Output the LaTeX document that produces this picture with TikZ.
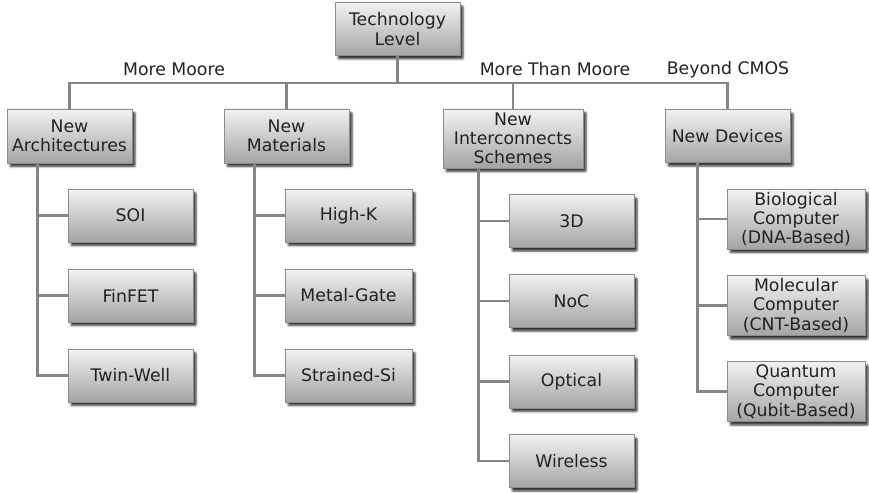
\documentclass[tikz,border=0pt]{standalone}
\usepackage{fontspec}
\setmainfont{DejaVu Sans}
\usetikzlibrary{shadows.blur}
\definecolor{conncol}{HTML}{858585}
\definecolor{boxborder}{HTML}{8C8C8C}
\definecolor{boxtop}{HTML}{F2F2F2}
\definecolor{boxbot}{HTML}{A4A4A4}
\definecolor{txt}{HTML}{222222}
\tikzset{
  box/.style={rectangle, draw=boxborder, line width=0.8pt,
    top color=boxtop, bottom color=boxbot,
    blur shadow={shadow xshift=3pt, shadow yshift=-3.5pt, shadow blur steps=5, shadow blur extra rounding=1pt, shadow opacity=80},
    minimum width=125pt, minimum height=53pt, align=center, inner sep=0pt,
    text=txt, font=\fontsize{17.3}{19.3}\selectfont},
  widebox/.style={box, minimum width=138pt, minimum height=60pt},
  conn/.style={draw=conncol, line width=2.8pt},
  lbl/.style={text=txt, font=\fontsize{17.3}{19.3}\selectfont, inner sep=0pt}
}
\begin{document}
\begin{tikzpicture}[x=1pt, y=-1pt]
\useasboundingbox (0,0) rectangle (869,492);
\coordinate (bus) at (399,83);
\node[box, font=\fontsize{17.3}{20.5}\selectfont] (tech) at (397.5,29) {Technology\\Level};
\node[box, minimum height=54pt] (arch) at (69.5,136) {New\\Architectures};
\node[box, minimum height=54pt] (mat) at (286.5,136) {New\\Materials};
\node[box, minimum width=140pt, minimum height=59pt] (inter) at (513,138.5) {New\\Interconnects\\Schemes};
\node[box] (dev) at (727.5,136) {New Devices};

\node[box] (soi) at (130.5,215.5) {SOI};
\node[box] (finfet) at (130.5,295.5) {FinFET};
\node[box] (twin) at (130.5,375.5) {Twin-Well};

\node[box, minimum width=127pt] (highk) at (348.5,215.5) {High-K};
\node[box, minimum width=127pt] (metal) at (348.5,295.5) {Metal-Gate};
\node[box, minimum width=127pt] (strained) at (348.5,375.5) {Strained-Si};

\node[box] (d3) at (571.5,221) {3D};
\node[box] (noc) at (571.5,301) {NoC};
\node[box] (optical) at (571.5,381.5) {Optical};
\node[box] (wireless) at (571.5,461) {Wireless};

\node[widebox] (bio) at (796,219) {Biological\\Computer\\(DNA-Based)};
\node[widebox] (mol) at (796,305.5) {Molecular\\Computer\\(CNT-Based)};
\node[widebox] (qua) at (796,391.5) {Quantum\\Computer\\(Qubit-Based)};

% connectors
\draw[conn] (tech.south) -- (tech.south |- bus);
\draw[conn] (arch.north) -- (arch.north |- bus) -- (dev.north |- bus) -- (dev.north);
\draw[conn] (mat.north) -- (mat.north |- bus);
\draw[conn] (inter.north) -- (inter.north |- bus);

\coordinate (archT) at ([xshift=31pt]arch.south west);
\draw[conn] (archT) |- (soi.west);
\draw[conn] (archT) |- (finfet.west);
\draw[conn] (archT) |- (twin.west);

\coordinate (matT) at ([xshift=31pt]mat.south west);
\draw[conn] (matT) |- (highk.west);
\draw[conn] (matT) |- (metal.west);
\draw[conn] (matT) |- (strained.west);

\coordinate (interT) at ([xshift=36pt]inter.south west);
\draw[conn] (interT) |- (d3.west);
\draw[conn] (interT) |- (noc.west);
\draw[conn] (interT) |- (optical.west);
\draw[conn] (interT) |- (wireless.west);

\coordinate (devT) at ([xshift=33pt]dev.south west);
\draw[conn] (devT) |- (bio.west);
\draw[conn] (devT) |- (mol.west);
\draw[conn] (devT) |- (qua.west);

\node[lbl] (mm) at (174,69) {More Moore};
\node[lbl] (mtm) at (555,69) {More Than Moore};
\node[lbl] (bc) at (728,70) {Beyond CMOS};
\end{tikzpicture}
\end{document}
